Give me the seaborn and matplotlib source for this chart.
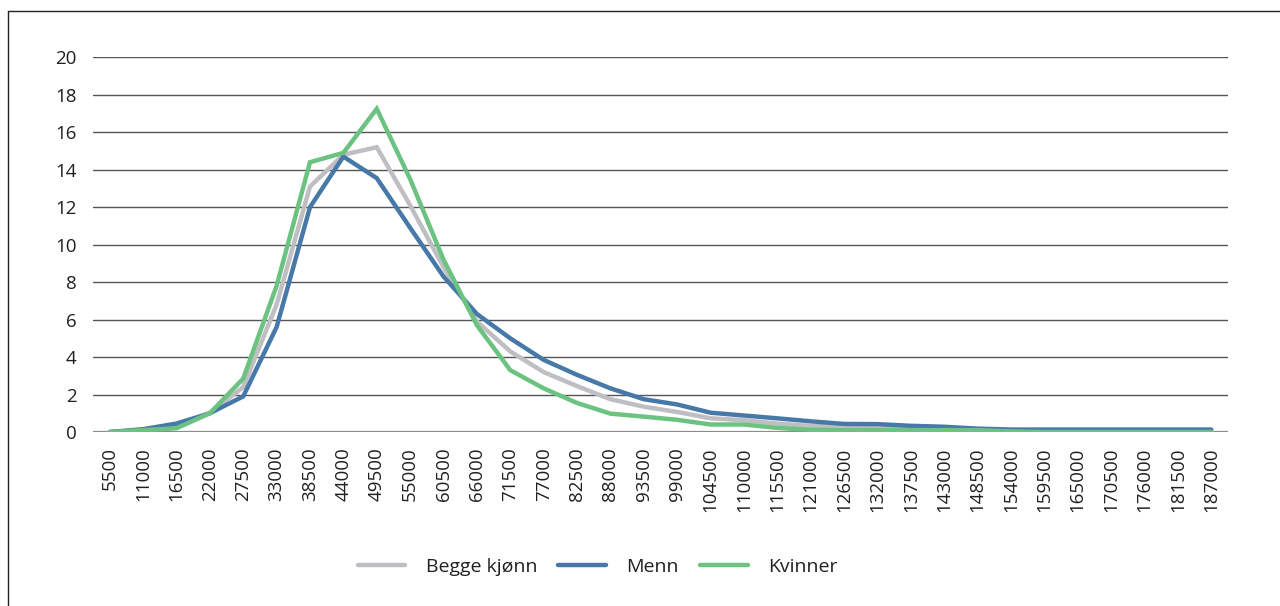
import matplotlib
matplotlib.use("Agg")
import matplotlib.pyplot as plt
import seaborn as sns
import pandas as pd
from matplotlib.lines import Line2D

# ---- data ----
categories = [str(5500 * k) for k in range(1, 35)]
begge = [0.0, 0.1, 0.3, 1.0, 2.4, 6.8, 13.1, 14.8, 15.2, 12.1, 8.8, 5.9,
         4.3, 3.2, 2.45, 1.75, 1.35, 1.07, 0.73, 0.63, 0.45, 0.32, 0.28, 0.22,
         0.18, 0.15, 0.1, 0.1, 0.08, 0.05, 0.05, 0.05, 0.05, 0.05]
menn = [0.0, 0.15, 0.45, 1.0, 1.9, 5.6, 12.0, 14.7, 13.55, 10.9, 8.3, 6.3,
        5.0, 3.85, 3.05, 2.33, 1.75, 1.47, 1.03, 0.88, 0.73, 0.57, 0.43, 0.42,
        0.33, 0.28, 0.18, 0.13, 0.13, 0.13, 0.13, 0.13, 0.13, 0.13]
kvinner = [0.0, 0.1, 0.2, 1.0, 2.85, 7.8, 14.4, 14.9, 17.25, 13.5, 9.2, 5.7,
           3.3, 2.33, 1.55, 0.98, 0.82, 0.65, 0.4, 0.4, 0.22, 0.12, 0.1, 0.1,
           0.1, 0.1, 0.1, 0.03, 0.0, 0.0, 0.0, 0.0, 0.0, 0.0]
series_names = ["Begge kjønn", "Menn", "Kvinner"]
colors = ["#bfbfc3", "#4779a8", "#6cc281"]
yticks = list(range(0, 21, 2))

df = pd.concat([
    pd.DataFrame({"inntekt": categories, "verdi": vals, "serie": name})
    for name, vals in zip(series_names, [begge, menn, kvinner])
], ignore_index=True)

sns.set_theme(style="white")
plt.rcParams["font.family"] = ["Open Sans", "DejaVu Sans"]
text_color = "#231f20"

fig = plt.figure(figsize=(12.8, 6.06), dpi=100)
ax = fig.add_axes([93 / 1280, 1 - 432 / 606, (1228 - 93) / 1280, (432 - 57.3) / 606])

sns.lineplot(data=df, x="inntekt", y="verdi", hue="serie", hue_order=series_names,
             palette=colors, sort=False, linewidth=3.2, ax=ax, legend=False,
             solid_capstyle="round", solid_joinstyle="miter", zorder=3)

ax.set_xlim(-0.5, len(categories) - 0.5)
ax.set_ylim(0, 20)
ax.set_yticks(yticks)
ax.set_yticklabels([str(t) for t in yticks])
ax.set_xticks(range(len(categories)))
ax.set_xticklabels(categories, rotation=90)
ax.set_xlabel("")
ax.set_ylabel("")
ax.grid(False)
for t in yticks[1:]:
    ax.axhline(t, color="#555555", linewidth=1.0, zorder=1)
ax.axhline(0, color="#8c8c8c", linewidth=1.6, zorder=2)
for s in ax.spines.values():
    s.set_visible(False)
ax.tick_params(axis="both", length=0, labelsize=13.5, colors=text_color)
ax.tick_params(axis="x", pad=11)
ax.tick_params(axis="y", pad=12)

handles = [Line2D([0], [0], color=c, linewidth=3.2, solid_capstyle="round") for c in colors]
fig.legend(handles, series_names, loc="center", bbox_to_anchor=(0.467, 1 - 567 / 606),
           ncol=3, frameon=False, fontsize=14, handlelength=2.45, handletextpad=1.05,
           columnspacing=1.1, labelcolor=text_color)

# outer frame (top and left edges visible)
fig.add_artist(Line2D([8 / 1280, 8 / 1280], [0, 1 - 11 / 606], color="#222222", linewidth=1.0,
                      transform=fig.transFigure))
fig.add_artist(Line2D([8 / 1280, 1.0], [1 - 11 / 606, 1 - 11 / 606], color="#222222", linewidth=1.0,
                      transform=fig.transFigure))

fig.savefig("out.png", dpi=100, facecolor="white")
